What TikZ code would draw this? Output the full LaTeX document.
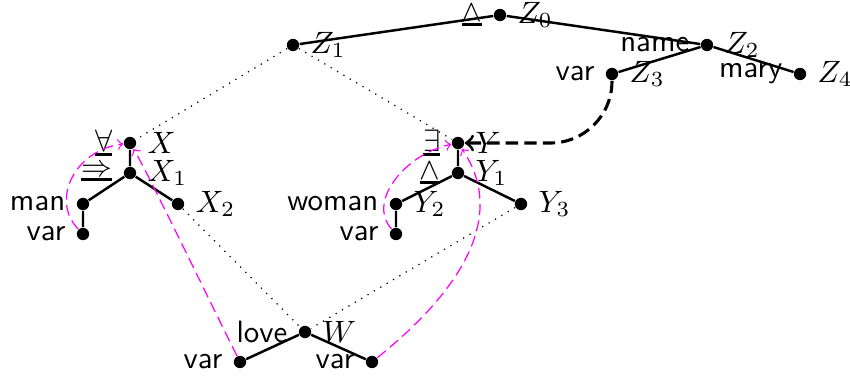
\documentclass[tikz,border=0pt]{standalone}
\newcommand{\uop}[1]{\vtop{\hbox{$#1$}\kern0.6pt\hrule height 0.8pt}}
\begin{document}
\begin{tikzpicture}[x=0.324pt,y=0.324pt,yscale=-1,
  dot/.style={circle,fill,inner sep=0pt,minimum size=4pt,label distance=0.6pt},
  every label/.style={font=\sffamily},
  tree/.style={thick},
  link/.style={dotted},
  bind/.style={line width=1pt,dash pattern=on 4pt off 2pt,->,rounded corners=20pt},
  flow/.style={color={rgb,255:red,255;green,0;blue,255},thin,dash pattern=on 3.5pt off 1.8pt,->}]
\useasboundingbox (0,0) rectangle (850,378);

% top tree
\node[dot,label=left:\uop{\wedge},label=right:$Z_0$] (z0) at (500,15) {};
\node[dot,label=right:$Z_1$] (z1) at (293,45) {};
\node[dot,label=left:name,label=right:$Z_2$] (z2) at (707,45) {};
\node[dot,label=left:var,label=right:$Z_3$] (z3) at (612,74) {};
\node[dot,label=left:mary,label=right:$Z_4$] (z4) at (800,74) {};

% left tree
\node[dot,label=left:\uop{\forall},label=right:$X$] (x) at (130,143) {};
\node[dot,label=left:\uop{\Rightarrow},label=right:$X_1$] (x1) at (130,173) {};
\node[dot,label=left:man] (xman) at (83,204) {};
\node[dot,label=left:var] (xvar) at (83,234) {};
\node[dot,label=right:$X_2$] (x2) at (178,204) {};

% middle tree
\node[dot,label=left:\uop{\exists},label=right:$Y$] (y) at (458,143) {};
\node[dot,label=left:\uop{\wedge},label=right:$Y_1$] (y1) at (458,173) {};
\node[dot,label=left:woman,label=right:$Y_2$] (y2) at (396,204) {};
\node[dot,label=left:var] (yvar) at (396,234) {};
\node[dot,label=right:$Y_3$] (y3) at (521,204) {};

% bottom tree
\node[dot,label=left:love,label=right:$W$] (w) at (305,332) {};
\node[dot,label=left:var] (wl) at (240,362) {};
\node[dot,label=left:var] (wr) at (372,362) {};

\draw[tree] (z1) -- (z0) -- (z2) -- (z4);
\draw[tree] (z2) -- (z3);
\draw[tree] (x) -- (x1) -- (xman) -- (xvar);
\draw[tree] (x1) -- (x2);
\draw[tree] (y) -- (y1) -- (y2) -- (yvar);
\draw[tree] (y1) -- (y3);
\draw[tree] (wl) -- (w) -- (wr);

% links
\draw[link] (z1) -- (x);
\draw[link] (z1) -- (y);
\draw[link] (x2) -- (w);
\draw[link] (y3) -- (w);

\draw[bind] (z3) |- (y);

\draw[flow] (xvar) .. controls +(-33,-34) and +(-55,7) .. (x);
\draw[flow] (wl) .. controls +(-30,-60) and +(18,30) .. (x);
\draw[flow] (yvar) .. controls +(-30,-34) and +(-50,10) .. (y);
\draw[flow] (wr) .. controls +(108,-87) and +(42,62) .. (y);
\end{tikzpicture}
\end{document}
